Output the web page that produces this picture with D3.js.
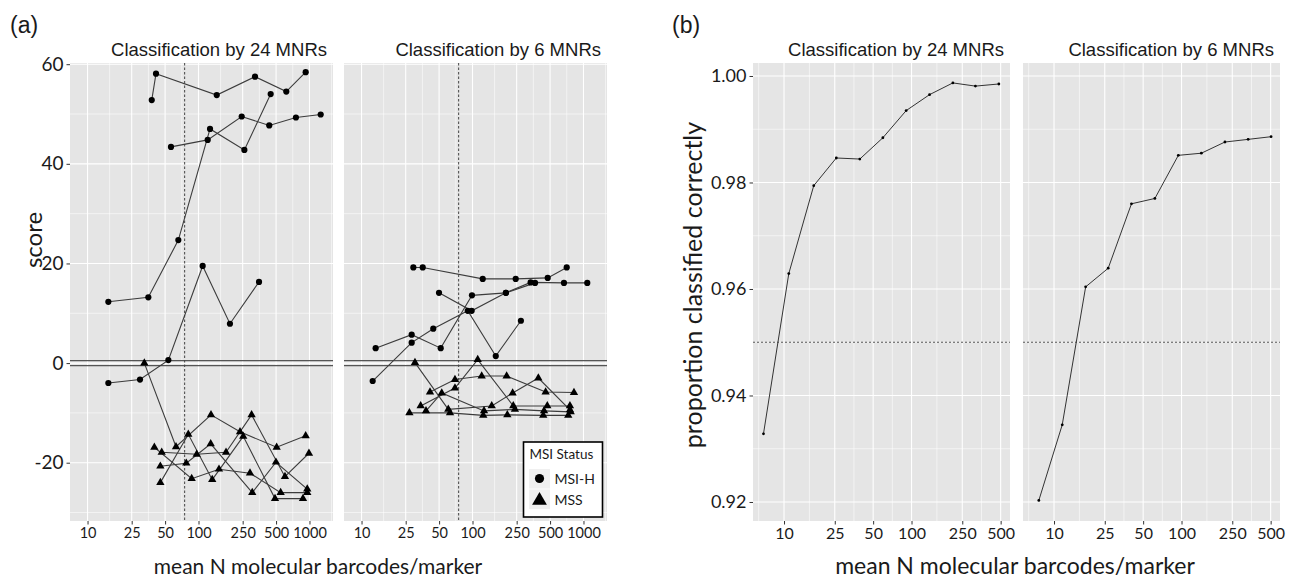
<!DOCTYPE html>
<html>
<head>
<meta charset="utf-8">
<script src="https://cdn.jsdelivr.net/npm/d3@7"></script>
<style>
  body { margin: 0; background: #fff; }
</style>
</head>
<body>
<script>
// ---- ticks, titles, reference lines ----
const scoreTicks = [-20, 0, 20, 40, 60];
const barcodeTicksA = [10, 25, 50, 100, 250, 500, 1000];
const barcodeTicksB = [10, 25, 50, 100, 250, 500];
const propTicks = [0.92, 0.94, 0.96, 0.98, 1.0];
const panelTitles = ["Classification by 24 MNRs", "Classification by 6 MNRs"];
const cutoffBarcodes = 75;
const scoreBand = [-0.5, 0.5];
const propThreshold = 0.95;
const legendLabels = ["MSI-H", "MSS"];

// ---- (a) score per sample, 24 MNRs ----
const msiH24 = [
  { x: [37.9, 41.4, 146, 323, 618, 924], y: [52.8, 58.1, 53.8, 57.5, 54.5, 58.4] },
  { x: [56.5, 121, 245, 434, 755, 1262], y: [43.4, 44.8, 49.5, 47.7, 49.3, 49.9] },
  { x: [15.4, 35.3, 65.8, 127, 259, 447], y: [12.3, 13.2, 24.7, 47.0, 42.8, 54.0] },
  { x: [15.4, 29.7, 53.5, 109, 192, 351], y: [-4.0, -3.3, 0.6, 19.5, 7.9, 16.3] },
];
const mss24 = [
  { x: [32.5, 62.7, 129.6, 236.6, 506, 924], y: [0.0, -16.8, -10.4, -13.8, -16.9, -14.6] },
  { x: [40, 86.8, 153, 291, 550, 955], y: [-16.9, -23.2, -21.3, -22.1, -26.0, -26.0] },
  { x: [45.3, 80.9, 133, 253, 489, 874], y: [-24.0, -14.3, -23.4, -14.7, -27.2, -27.2] },
  { x: [45.3, 77.6, 128.8, 305, 499, 955], y: [-20.7, -20.1, -16.2, -26.0, -19.9, -25.3] },
  { x: [46.6, 96.3, 177, 301, 601, 989], y: [-17.9, -18.3, -17.9, -10.4, -22.8, -18.1] },
];

// ---- (a) score per sample, 6 MNRs ----
const msiH6 = [
  { x: [29.3, 35.6, 123.6, 245, 476, 706], y: [19.2, 19.2, 16.9, 16.9, 17.1, 19.2] },
  { x: [49.9, 98.3, 200, 334, 667, 1082], y: [14.1, 10.5, 14.1, 16.2, 16.1, 16.1] },
  { x: [13.4, 28.3, 51.7, 98.9, 200, 366], y: [3.0, 5.7, 3.0, 13.6, 14.1, 16.1] },
  { x: [12.6, 28.3, 44.3, 90.6, 162, 273], y: [-3.6, 4.1, 6.9, 10.5, 1.4, 8.5] },
];
const mss6 = [
  { x: [30.3, 60.5, 149, 230, 392, 755], y: [0.1, -9.3, -8.6, -6.0, -3.0, -9.4] },
  { x: [34.1, 69.5, 111.4, 233, 472, 755], y: [-8.6, -5.0, 0.7, -8.6, -8.6, -8.6] },
  { x: [41.4, 69.5, 121, 203, 456, 821], y: [-5.8, -3.3, -2.6, -2.6, -5.8, -5.9] },
  { x: [27.0, 62.7, 125, 206, 434, 729], y: [-10.0, -10.0, -10.5, -10.4, -10.5, -10.5] },
  { x: [38.1, 52.8, 127, 241, 441, 767], y: [-9.6, -6.0, -9.6, -9.3, -9.6, -9.8] },
];

// ---- (b) proportion classified correctly ----
const propX24 = [6.9, 10.9, 17.1, 25.7, 39.3, 59.6, 90.8, 138.5, 211, 317, 484];
const propY24 = [0.9328, 0.9629, 0.9794, 0.9846, 0.9844, 0.9884, 0.9935, 0.9965, 0.9987, 0.9981, 0.9985];
const propX6 = [7.6, 11.6, 17.7, 26.6, 40.5, 61.8, 94.4, 143, 219, 333, 504];
const propY6 = [0.9203, 0.9345, 0.9604, 0.9639, 0.976, 0.977, 0.9851, 0.9855, 0.9876, 0.9881, 0.9886];

const W = 1293, H = 579;
const SANS = "Lato, 'Open Sans', sans-serif";
const ARIAL = "'Liberation Sans', Arial, sans-serif";
const TXT = "#1a1a1a";
const PANEL_BG = "#E5E5E5";
const TOP = 63, BOTTOM = 521;

const svg = d3.select("body").append("svg")
  .attr("width", W).attr("height", H)
  .attr("viewBox", `0 0 ${W} ${H}`);

// scales
const yA = d3.scaleLinear().domain([-31.7, 60.24]).range([BOTTOM, TOP]);
const xA = [
  d3.scaleLog().domain([6.95, 1629]).range([70, 333]),
  d3.scaleLog().domain([6.95, 1629]).range([344, 607]),
];
const yB = d3.scaleLinear().domain([0.91643, 1.00244]).range([BOTTOM, TOP]);
const xB = [
  d3.scaleLog().domain([5.71, 592]).range([753, 1010]),
  d3.scaleLog().domain([5.71, 592]).range([1023, 1280]),
];

// ggplot-style minor breaks (midpoints, one step extended each side)
function minorBreaks(ticks, domain, log) {
  const f = log ? Math.log10 : (v) => v;
  const inv = log ? (v) => Math.pow(10, v) : (v) => v;
  const b = ticks.map(f);
  const bd = b[1] - b[0];
  const lo = f(domain[0]), hi = f(domain[1]);
  if (lo < b[0]) b.unshift(b[0] - bd);
  if (hi > b[b.length - 1]) b.push(b[b.length - 1] + bd);
  const out = [];
  for (let i = 0; i < b.length - 1; i++) out.push((b[i] + b[i + 1]) / 2);
  return out.filter((v) => v > lo && v < hi).map(inv);
}

function drawPanel(x, y, xTicks, yTicks, xLog) {
  const [x0, x1] = x.range();
  const g = svg.append("g");
  g.append("rect")
    .attr("x", x0).attr("y", TOP)
    .attr("width", x1 - x0).attr("height", BOTTOM - TOP)
    .attr("fill", PANEL_BG);

  minorBreaks(yTicks, y.domain(), false).forEach((v) => {
    g.append("line").attr("x1", x0).attr("x2", x1)
      .attr("y1", y(v)).attr("y2", y(v))
      .attr("stroke", "#fff").attr("stroke-width", 0.55);
  });
  minorBreaks(xTicks, x.domain(), xLog).forEach((v) => {
    g.append("line").attr("y1", TOP).attr("y2", BOTTOM)
      .attr("x1", x(v)).attr("x2", x(v))
      .attr("stroke", "#fff").attr("stroke-width", 0.55);
  });
  yTicks.forEach((v) => {
    g.append("line").attr("x1", x0).attr("x2", x1)
      .attr("y1", y(v)).attr("y2", y(v))
      .attr("stroke", "#fff").attr("stroke-width", 1.1);
  });
  xTicks.forEach((v) => {
    g.append("line").attr("y1", TOP).attr("y2", BOTTOM)
      .attr("x1", x(v)).attr("x2", x(v))
      .attr("stroke", "#fff").attr("stroke-width", 1.1);
  });
  return g;
}

function xAxis(x, ticks, size) {
  const g = svg.append("g").attr("transform", `translate(0,${BOTTOM})`);
  g.call(d3.axisBottom(x).tickValues(ticks).tickFormat((d) => String(d))
    .tickSize(3.5).tickPadding(3));
  g.select(".domain").remove();
  g.selectAll(".tick line").attr("stroke", "#333");
  g.selectAll(".tick text").attr("fill", TXT)
    .attr("font-family", SANS).attr("font-size", size);
}

function yAxis(y, x0, ticks, fmt, size) {
  const g = svg.append("g").attr("transform", `translate(${x0},0)`);
  g.call(d3.axisLeft(y).tickValues(ticks).tickFormat(fmt)
    .tickSize(3.5).tickPadding(3));
  g.select(".domain").remove();
  g.selectAll(".tick line").attr("stroke", "#333");
  g.selectAll(".tick text").attr("fill", TXT)
    .attr("font-family", SANS).attr("font-size", size);
}

function stripTitle(x, text) {
  svg.append("text")
    .attr("x", x.range()[1] - 6).attr("y", 56)
    .attr("text-anchor", "end")
    .attr("font-family", ARIAL).attr("font-size", 18.5)
    .attr("fill", TXT)
    .text(text);
}

const triangle = d3.symbol().type(d3.symbolTriangle);

// ================= panel (a) =================
const panelsA = [
  { x: xA[0], msiH: msiH24, mss: mss24 },
  { x: xA[1], msiH: msiH6, mss: mss6 },
];

panelsA.forEach((p, i) => {
  const x = p.x;
  const g = drawPanel(x, yA, barcodeTicksA, scoreTicks, true);
  const [x0, x1] = x.range();

  // threshold band around 0
  scoreBand.forEach((v) => {
    g.append("line").attr("x1", x0).attr("x2", x1)
      .attr("y1", yA(v)).attr("y2", yA(v))
      .attr("stroke", "#555").attr("stroke-width", 1.3);
  });
  // barcode cut-off
  g.append("line")
    .attr("x1", x(cutoffBarcodes)).attr("x2", x(cutoffBarcodes))
    .attr("y1", TOP).attr("y2", BOTTOM)
    .attr("stroke", "#444").attr("stroke-width", 1)
    .attr("stroke-dasharray", "2.5,2");

  const line = d3.line().x((d) => x(d[0])).y((d) => yA(d[1]));
  const toPts = (s) => s.x.map((v, k) => [v, s.y[k]]);

  p.mss.concat(p.msiH).forEach((s) => {
    g.append("path").datum(toPts(s))
      .attr("d", line).attr("fill", "none")
      .attr("stroke", "#3c3c3c").attr("stroke-width", 1.1);
  });
  p.msiH.forEach((s) => {
    toPts(s).forEach((d) => {
      g.append("circle").attr("cx", x(d[0])).attr("cy", yA(d[1]))
        .attr("r", 3.1).attr("fill", "#000");
    });
  });
  p.mss.forEach((s) => {
    toPts(s).forEach((d) => {
      g.append("path").attr("d", triangle.size(30)())
        .attr("transform", `translate(${x(d[0])},${yA(d[1])})`)
        .attr("fill", "#000");
    });
  });

  xAxis(x, barcodeTicksA, 14.5);
  stripTitle(x, panelTitles[i]);
});
yAxis(yA, 70, scoreTicks, (d) => String(d), 19);

// legend
const lg = svg.append("g").attr("transform", "translate(523.5,442)");
lg.append("rect").attr("width", 79).attr("height", 75)
  .attr("fill", "#fff").attr("stroke", "#000").attr("stroke-width", 1.6);
lg.append("text").attr("x", 6).attr("y", 17)
  .attr("font-family", SANS).attr("font-size", 13.5).attr("fill", TXT)
  .text("MSI Status");
legendLabels.forEach((lab, k) => {
  const ky = 27 + k * 20.5;
  lg.append("rect").attr("x", 5.5).attr("y", ky).attr("width", 21).attr("height", 19.5)
    .attr("fill", "#F0F0F0");
  if (k === 0) {
    lg.append("circle").attr("cx", 16).attr("cy", ky + 9.5).attr("r", 4.6).attr("fill", "#000");
  } else {
    lg.append("path").attr("d", triangle.size(95)())
      .attr("transform", `translate(16,${ky + 11})`).attr("fill", "#000");
  }
  lg.append("text").attr("x", 31).attr("y", ky + 15)
    .attr("font-family", SANS).attr("font-size", 14).attr("fill", TXT)
    .text(lab);
});

// ================= panel (b) =================
const panelsB = [
  { x: xB[0], px: propX24, py: propY24 },
  { x: xB[1], px: propX6, py: propY6 },
];
panelsB.forEach((p, i) => {
  const x = p.x;
  const g = drawPanel(x, yB, barcodeTicksB, propTicks, true);
  const [x0, x1] = x.range();
  g.append("line").attr("x1", x0).attr("x2", x1)
    .attr("y1", yB(propThreshold)).attr("y2", yB(propThreshold))
    .attr("stroke", "#555").attr("stroke-width", 1)
    .attr("stroke-dasharray", "2,2");

  const pts = p.px.map((v, k) => [v, p.py[k]]);
  g.append("path").datum(pts)
    .attr("d", d3.line().x((d) => x(d[0])).y((d) => yB(d[1])))
    .attr("fill", "none").attr("stroke", "#333").attr("stroke-width", 1);
  pts.forEach((d) => {
    g.append("circle").attr("cx", x(d[0])).attr("cy", yB(d[1]))
      .attr("r", 1.4).attr("fill", "#000");
  });

  xAxis(x, barcodeTicksB, 16);
  stripTitle(x, panelTitles[i]);
});
yAxis(yB, 753, propTicks, d3.format(".2f"), 18);

// ================= titles & labels =================
svg.append("text").attr("x", 10).attr("y", 33)
  .attr("font-family", ARIAL).attr("font-size", 23).attr("fill", TXT).text("(a)");
svg.append("text").attr("x", 672).attr("y", 33)
  .attr("font-family", ARIAL).attr("font-size", 23).attr("fill", TXT).text("(b)");

svg.append("text")
  .attr("transform", "translate(42,240) rotate(-90)")
  .attr("text-anchor", "middle")
  .attr("font-family", SANS).attr("font-size", 24).attr("fill", TXT)
  .text("score");
svg.append("text")
  .attr("transform", "translate(702,285) rotate(-90)")
  .attr("text-anchor", "middle")
  .attr("font-family", SANS).attr("font-size", 25).attr("fill", TXT)
  .text("proportion classified correctly");

svg.append("text").attr("x", 318).attr("y", 574)
  .attr("text-anchor", "middle")
  .attr("font-family", SANS).attr("font-size", 21).attr("fill", TXT)
  .text("mean N molecular barcodes/marker");
svg.append("text").attr("x", 1015).attr("y", 574)
  .attr("text-anchor", "middle")
  .attr("font-family", SANS).attr("font-size", 23).attr("fill", TXT)
  .text("mean N molecular barcodes/marker");
</script>
</body>
</html>
